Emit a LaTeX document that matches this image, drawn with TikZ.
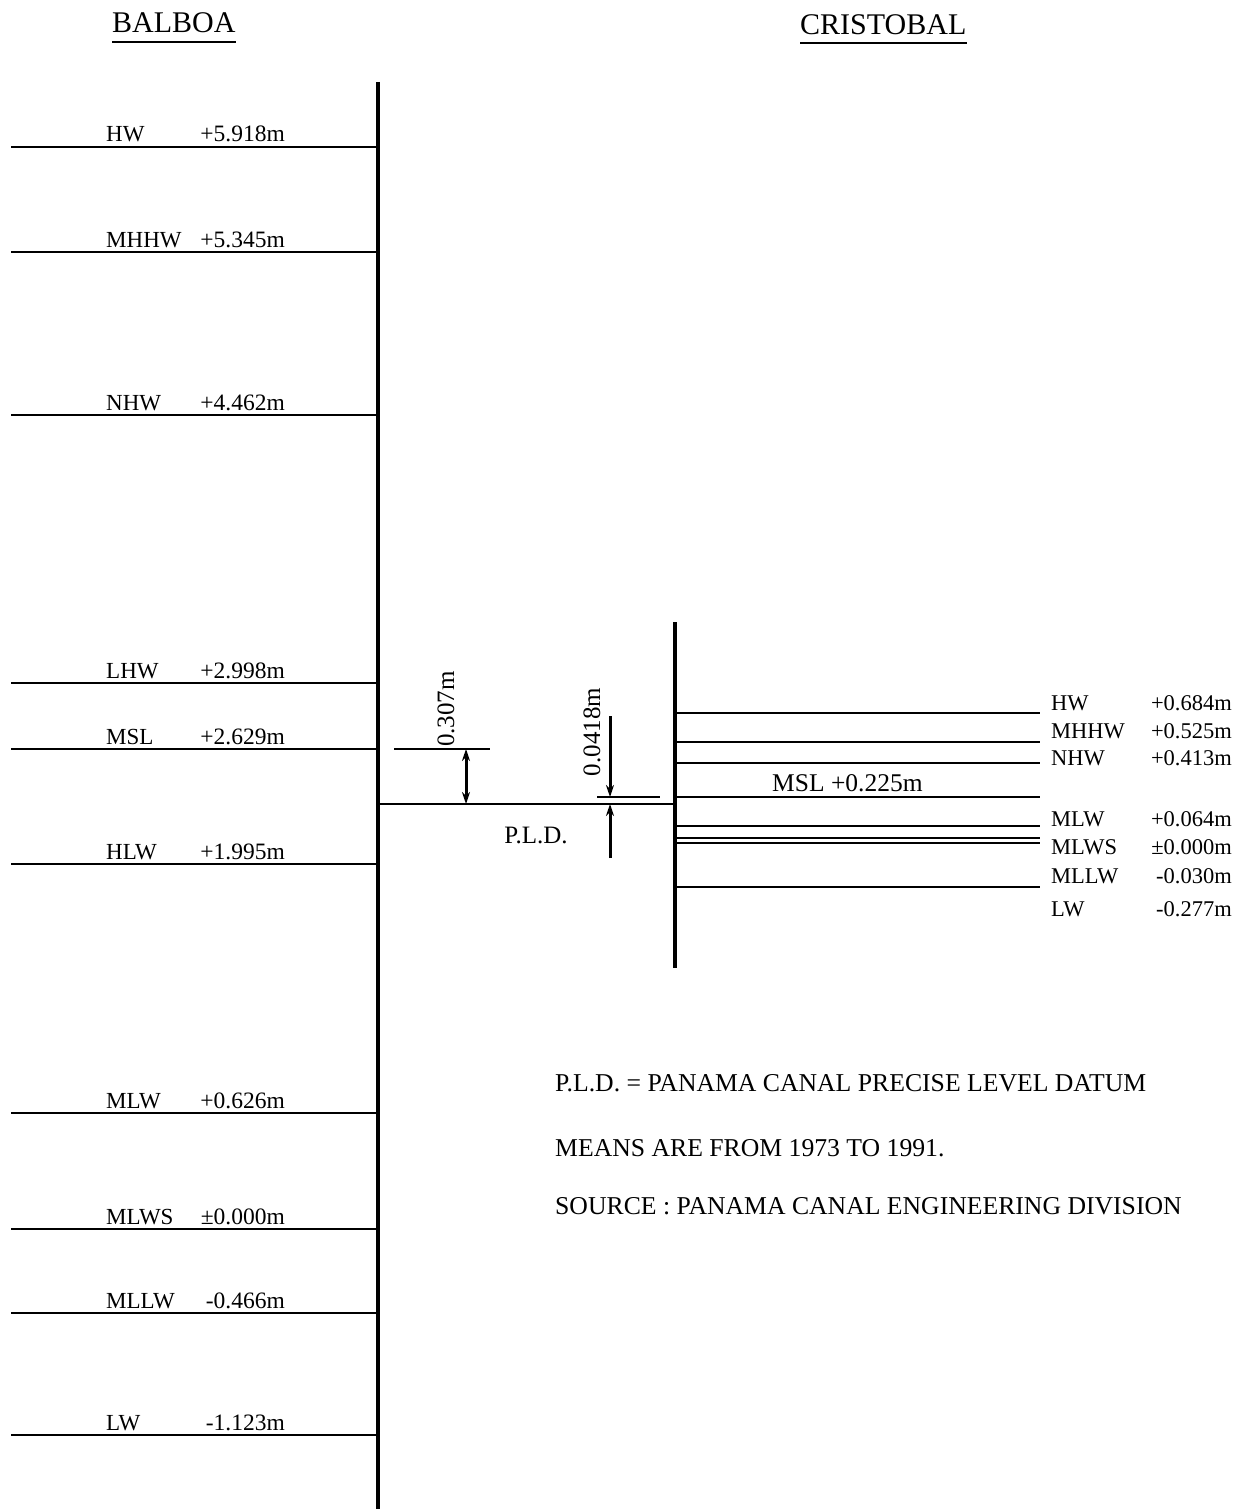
\documentclass[tikz,border=0pt]{standalone}
\usepackage{fontspec}
\setmainfont{Liberation Serif}
\usetikzlibrary{arrows.meta}
\tikzset{
  post/.style    = {line width=4pt},
  level/.style   = {line width=1.6pt},
  thinline/.style= {line width=1.2pt},
  title/.style   = {anchor=base west, inner sep=0pt, font=\fontsize{30}{34}\selectfont},
  lvlname/.style = {anchor=base west, inner sep=0pt, font=\fontsize{23}{26}\selectfont},
  lvlval/.style  = {anchor=base east, inner sep=0pt, font=\fontsize{23.5}{27}\selectfont},
  crname/.style  = {anchor=base west, inner sep=0pt, font=\fontsize{22.5}{25}\selectfont},
  crval/.style   = {anchor=base east, inner sep=0pt, font=\fontsize{22.5}{25}\selectfont},
  dimtext/.style = {rotate=90, inner sep=0pt, font=\fontsize{25}{28}\selectfont},
  note/.style    = {anchor=base west, inner sep=0pt, font=\fontsize{25.7}{29}\selectfont},
  dimar/.style   = {-{Stealth[length=12pt,width=8pt]}, line width=3pt},
  dimarr/.style  = {{Stealth[length=12pt,width=8pt]}-{Stealth[length=12pt,width=8pt]}, line width=3pt},
}
\begin{document}
\begin{tikzpicture}[x=1pt, y=-1pt]
  \useasboundingbox (0,0) rectangle (1241,1509);

  % ----- titles -----
  \node[title] (balboa) at (112,33) {BALBOA};
  \draw[thinline] ([yshift=-9pt]balboa.base west) -- ([yshift=-9pt]balboa.base east);
  \node[title] (cristobal) at (800,35) {CRISTOBAL};
  \draw[thinline] ([yshift=-8pt]cristobal.base west) -- ([yshift=-8pt]cristobal.base east);

  % ----- balboa -----
  \coordinate (balTop) at (378,82);
  \coordinate (balBot) at (378,1509);
  \draw[post] (balTop) -- (balBot);
  \foreach \n/\y/\v in {HW/147/+5.918m, MHHW/252/+5.345m, NHW/415/+4.462m,
                        LHW/683/+2.998m, MSL/749/+2.629m, HLW/864/+1.995m,
                        MLW/1113/+0.626m, MLWS/1229/±0.000m, MLLW/1313/-0.466m,
                        LW/1435/-1.123m}
     {\coordinate (bw\n) at (11,\y);
      \coordinate (be\n) at (378,\y);
      \draw[level] (bw\n) -- (be\n);
      \node[lvlname] (bn\n) at (106,\y-5) {\n};
      \node[lvlval] (bv\n) at (285,\y-5) {\v};}

  % ----- cristobal -----
  \coordinate (criTop) at (675,622);
  \coordinate (criBot) at (675,968);
  \draw[post] (criTop) -- (criBot);
  \foreach \n/\y in {HW/713, MHHW/742, NHW/763, MSL/797, MLW/826, MLWS/838, MLLW/843, LW/887}
     {\coordinate (cw\n) at (675,\y);
      \coordinate (ce\n) at (1040,\y);
      \draw[level] (cw\n) -- (ce\n);}
  \foreach \n/\y/\v in {HW/710/+0.684m, MHHW/738/+0.525m, NHW/765/+0.413m,
                        MLW/826/+0.064m, MLWS/854/±0.000m, MLLW/883/-0.030m,
                        LW/916/-0.277m}
     {\node[crname] (cn\n) at (1051,\y) {\n};
      \node[crval] (cv\n) at (1232,\y) {\v};}
  \node[lvlname, font=\fontsize{25.5}{28}\selectfont] (cmsl) at (772,791) {MSL +0.225m};

  % ----- datum and offsets -----
  \coordinate (pldW) at (378,804);
  \coordinate (pldE) at (675,804);
  \draw[level] (pldW) -- (pldE);
  \node[lvlname, anchor=center, font=\fontsize{25}{28}\selectfont] (pld) at (536,835) {P.L.D.};

  \coordinate (bExtW) at (394,749);
  \coordinate (bExtE) at (490,749);
  \draw[thinline] (bExtW) -- (bExtE);
  \coordinate (bDimTop) at (466,749);
  \coordinate (bDimBot) at (466,804);
  \draw[dimarr] (bDimTop) -- (bDimBot);
  \node[dimtext] (b307) at (446,709) {0.307m};

  \coordinate (cExtW) at (597,797);
  \coordinate (cExtE) at (660,797);
  \draw[thinline] (cExtW) -- (cExtE);
  \coordinate (cDimUp) at (610,716);
  \coordinate (cDimTop) at (610,797);
  \coordinate (cDimLow) at (610,858);
  \coordinate (cDimBot) at (610,804);
  \draw[dimar] (cDimUp) -- (cDimTop);
  \draw[dimar] (cDimLow) -- (cDimBot);
  \node[dimtext] (c0418) at (592,732) {0.0418m};

  % ----- notes -----
  \node[note] (note1) at (555,1091) {P.L.D. = PANAMA CANAL PRECISE LEVEL DATUM};
  \node[note] (note2) at (555,1156) {MEANS ARE FROM 1973 TO 1991.};
  \node[note] (note3) at (555,1214) {SOURCE : PANAMA CANAL ENGINEERING DIVISION};

\end{tikzpicture}
\end{document}
